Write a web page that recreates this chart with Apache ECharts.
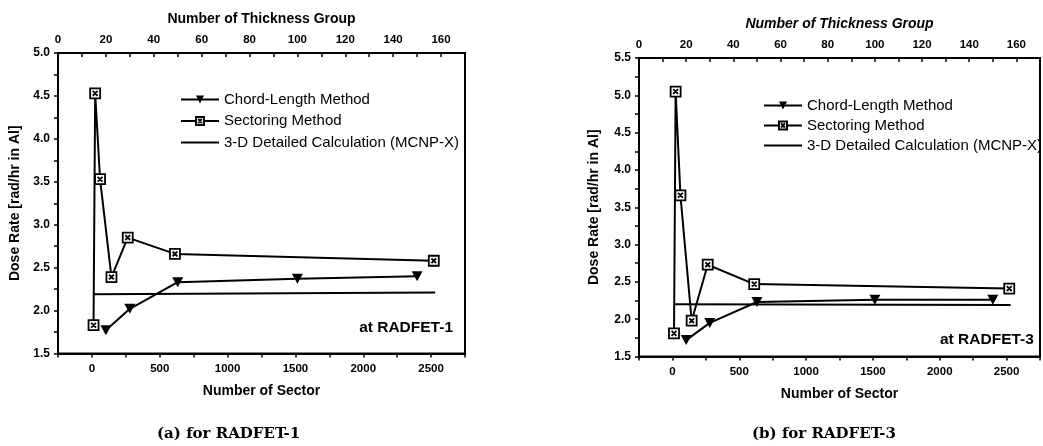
<!DOCTYPE html>
<html><head><meta charset="utf-8">
<script src="https://cdn.jsdelivr.net/npm/echarts@6/dist/echarts.min.js"></script>
<style>html,body{margin:0;padding:0;background:#fff}#c{width:1043px;height:446px}</style>
</head><body><div id="c"></div>
<script>
// ---- data ----
const sectorX = [12, 24, 60, 144, 264, 612, 2520];
const sectorA = [1.83, 4.53, 3.53, 2.39, 2.85, 2.66, 2.58];
const sectorB = [1.81, 5.05, 3.66, 1.98, 2.73, 2.47, 2.41];
const groupX = [20, 30, 50, 100, 150];
const chordA = [1.77, 2.02, 2.33, 2.37, 2.40];
const chordB = [1.72, 1.95, 2.23, 2.26, 2.26];
const mcnpX = [10, 2530];
const mcnpA = [2.19, 2.21];
const mcnpB = [2.20, 2.19];
const seriesNames = ['Chord-Length Method', 'Sectoring Method', '3-D Detailed Calculation (MCNP-X)'];
const sectorTicks = [0, 500, 1000, 1500, 2000, 2500];
const groupTicks = [0, 20, 40, 60, 80, 100, 120, 140, 160];
const yMaxA = 5.0, yMaxB = 5.5, yMin = 1.5;

const FF = '"Liberation Sans", Arial, sans-serif';
const zip = (xs, ys) => xs.map((x, i) => [x, ys[i]]);
const lbl = (extra) => Object.assign({color:'#000', fontFamily:FF, fontWeight:'bold', fontSize:11.5}, extra||{});
const nameStyle = (italic) => ({color:'#000', fontFamily:FF, fontWeight:'bold', fontSize:14, fontStyle: italic ? 'italic' : 'normal'});

function bottomAxis(g) {
  return {type:'value', gridIndex:g, position:'bottom', min:-250, max:2750, interval:250,
    name:'Number of Sector', nameLocation:'middle', nameGap:31, nameTextStyle:nameStyle(false),
    axisLine:{onZero:false, lineStyle:{color:'#000', width:2}},
    axisTick:{inside:false, length:4, lineStyle:{color:'#000', width:1.5}},
    axisLabel:lbl({margin:9, formatter: v => sectorTicks.indexOf(Math.round(v)) >= 0 ? String(Math.round(v)) : ''}),
    splitLine:{show:false}};
}
function topAxis(g, italic) {
  return {type:'value', gridIndex:g, position:'top', min:0, max:170, interval:10,
    name:'Number of Thickness Group', nameLocation:'middle', nameGap:27, nameTextStyle:nameStyle(italic),
    axisLine:{onZero:false, lineStyle:{color:'#000', width:2}},
    axisTick:{inside:true, length:4, lineStyle:{color:'#000', width:1.5}},
    axisLabel:lbl({margin:7, formatter: v => groupTicks.indexOf(Math.round(v)) >= 0 ? String(Math.round(v)) : ''}),
    splitLine:{show:false}};
}
function leftAxis(g, max, gap) {
  return {type:'value', gridIndex:g, min:yMin, max:max, interval:0.25,
    name:'Dose Rate [rad/hr in Al]', nameLocation:'middle', nameGap:gap, nameRotate:90, nameTextStyle:nameStyle(false),
    axisLine:{onZero:false, lineStyle:{color:'#000', width:2}},
    axisTick:{inside:false, length:4, lineStyle:{color:'#000', width:1.5}},
    axisLabel:lbl({margin:8, fontSize:12, formatter: v => Math.abs(v*2 - Math.round(v*2)) < 1e-6 ? v.toFixed(1) : ''}),
    splitLine:{show:false}};
}
const sectSymbol = 'path://M0,0H10V10H0Z M2.6,2.6L7.4,7.4 M7.4,2.6L2.6,7.4';
function mkSeries(xIdxBottom, xIdxTop, yIdx, sect, chord, mcnp) {
  return [
    {name:seriesNames[0], type:'line', xAxisIndex:xIdxTop, yAxisIndex:yIdx, data:zip(groupX, chord),
      symbol:'triangle', symbolRotate:180, symbolSize:[11,10], lineStyle:{color:'#000', width:2},
      itemStyle:{color:'#000'}, z:3},
    {name:seriesNames[1], type:'line', xAxisIndex:xIdxBottom, yAxisIndex:yIdx, data:zip(sectorX, sect),
      symbol:sectSymbol, symbolSize:10, lineStyle:{color:'#000', width:2},
      itemStyle:{color:'#fff', borderColor:'#000', borderWidth:1.8}, z:4},
    {name:seriesNames[2], type:'line', xAxisIndex:xIdxBottom, yAxisIndex:yIdx, data:zip(mcnpX, mcnp),
      symbol:'none', lineStyle:{color:'#000', width:2}, itemStyle:{color:'#000'}, z:2}
  ];
}
function legend(left, top, gap) {
  return {orient:'vertical', left:left, top:top, padding:0, itemWidth:38, itemHeight:10, itemGap:gap, selectedMode:false,
    data:[seriesNames[0], seriesNames[1], {name:seriesNames[2], icon:'path://M0,4H38V6H0Z'}],
    textStyle:{color:'#000', fontFamily:FF, fontSize:15, lineHeight:15}};
}

const chart = echarts.init(document.getElementById('c'), null, {renderer:'canvas'});
chart.setOption({
  backgroundColor:'#fff',
  animation:false,
  grid:[
    {left:58, top:53, width:407, height:300.5, show:true, borderColor:'#000', borderWidth:2, backgroundColor:'transparent'},
    {left:639, top:58, width:408, height:298.5, show:true, borderColor:'#000', borderWidth:2, backgroundColor:'transparent'}
  ],
  xAxis:[bottomAxis(0), topAxis(0, false), bottomAxis(1), topAxis(1, true)],
  yAxis:[leftAxis(0, yMaxA, 36), leftAxis(1, yMaxB, 38)],
  legend:[legend(180, 92, 6.5), legend(763, 98, 5)],
  series:[].concat(mkSeries(0, 1, 0, sectorA, chordA, mcnpA), mkSeries(2, 3, 1, sectorB, chordB, mcnpB)),
  graphic:[
    {type:'text', right:1043-453, top:320, style:{text:'at RADFET-1', fill:'#000', font:'bold 15.5px ' + FF}},
    {type:'text', left:940, top:332, style:{text:'at RADFET-3', fill:'#000', font:'bold 15.5px ' + FF}},
    {type:'text', left:157, top:427, style:{text:'(a) for RADFET-1', fill:'#000', font:'bold 15px "DejaVu Serif", serif'}},
    {type:'text', left:752, top:427, style:{text:'(b) for RADFET-3', fill:'#000', font:'bold 15px "DejaVu Serif", serif'}}
  ]
});
</script></body></html>
